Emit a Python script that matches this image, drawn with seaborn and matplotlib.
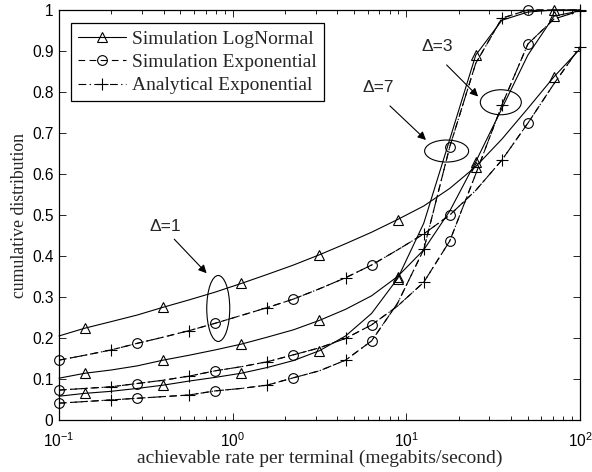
import matplotlib
matplotlib.use("Agg")
import matplotlib.pyplot as plt
import seaborn as sns
from matplotlib.lines import Line2D
from matplotlib.patches import Ellipse
from matplotlib.ticker import FixedLocator, FixedFormatter, LogLocator

# ---------------- data ----------------
rate = [0.1, 0.141, 0.2, 0.282, 0.398, 0.562, 0.794, 1.12, 1.58, 2.24, 3.16,
        4.47, 6.31, 8.91, 12.6, 17.8, 25.1, 35.5, 50.1, 70.8, 100]

lognormal_d1 = [0.205, 0.224, 0.240, 0.256, 0.275, 0.293, 0.312, 0.333, 0.355, 0.378, 0.403,
                0.430, 0.458, 0.489, 0.522, 0.565, 0.618, 0.685, 0.760, 0.837, 0.905]
lognormal_d3 = [0.102, 0.114, 0.122, 0.132, 0.146, 0.158, 0.171, 0.185, 0.202, 0.220, 0.243,
                0.270, 0.303, 0.350, 0.415, 0.510, 0.630, 0.760, 0.890, 0.985, 0.998]
lognormal_d7 = [0.058, 0.065, 0.070, 0.077, 0.085, 0.095, 0.104, 0.114, 0.128, 0.145, 0.169,
                0.205, 0.260, 0.345, 0.480, 0.685, 0.890, 0.975, 0.995, 1.000, 1.000]

exponential_d1 = [0.146, 0.158, 0.171, 0.187, 0.202, 0.218, 0.236, 0.255, 0.274, 0.295, 0.320,
                  0.347, 0.378, 0.415, 0.454, 0.500, 0.560, 0.634, 0.724, 0.820, 0.910]
exponential_d3 = [0.073, 0.077, 0.081, 0.089, 0.097, 0.107, 0.120, 0.130, 0.142, 0.159, 0.176,
                  0.199, 0.232, 0.278, 0.336, 0.437, 0.600, 0.768, 0.917, 0.978, 0.998]
exponential_d7 = [0.041, 0.045, 0.049, 0.053, 0.057, 0.061, 0.071, 0.077, 0.085, 0.103, 0.120,
                  0.146, 0.193, 0.285, 0.416, 0.667, 0.870, 0.980, 1.000, 1.000, 1.000]

analytical_d1 = exponential_d1
analytical_d3 = exponential_d3
analytical_d7 = exponential_d7

legend_labels = ["Simulation LogNormal", "Simulation Exponential", "Analytical Exponential"]
y_ticks = [0, 0.1, 0.2, 0.3, 0.4, 0.5, 0.6, 0.7, 0.8, 0.9, 1]
y_tick_labels = ["0", "0.1", "0.2", "0.3", "0.4", "0.5", "0.6", "0.7", "0.8", "0.9", "1"]

# annotations: label, text pos, arrow start, arrow end, ellipse centre, ellipse size (px)
annotations = [
    ("\u0394=1", (0.407, 0.471), (0.461, 0.441), (0.708, 0.358), (0.826, 0.272), (23, 66)),
    ("\u0394=3", (15.0, 0.912), (17.06, 0.866), (25.9, 0.789), (35.0, 0.775), (41, 25)),
    ("\u0394=7", (6.87, 0.810), (8.05, 0.766), (12.97, 0.683), (17.06, 0.656), (44, 22)),
]

# ---------------- style ----------------
sns.set_style("ticks")
plt.rcParams["font.family"] = ["Liberation Sans", "DejaVu Sans"]
plt.rcParams["mathtext.fontset"] = "custom"
plt.rcParams["mathtext.rm"] = "Liberation Sans"
plt.rcParams["mathtext.it"] = "Liberation Sans:italic"
serif = ["Liberation Serif", "DejaVu Serif"]

fig = plt.figure(figsize=(5.92, 4.72), dpi=100)
ax = fig.add_axes([59 / 592, 1 - 420 / 472, 521 / 592, 410 / 472])

lw = 0.8
styles = {
    "logn": dict(linestyle="-", marker="^", markevery=slice(1, None, 3), markersize=7.5),
    "exp": dict(linestyle=(0, (6, 4)), marker="o", markevery=slice(0, None, 3), markersize=7),
    "ana": dict(linestyle=(0, (7, 3, 1.2, 3)), marker="+", markevery=slice(2, None, 3), markersize=8),
}

series = [
    ("logn", lognormal_d1), ("logn", lognormal_d3), ("logn", lognormal_d7),
    ("exp", exponential_d1), ("exp", exponential_d3), ("exp", exponential_d7),
    ("ana", analytical_d1), ("ana", analytical_d3), ("ana", analytical_d7),
]

for kind, vals in series:
    st = styles[kind]
    sns.lineplot(x=rate, y=vals, ax=ax, color="k", linewidth=lw, errorbar=None,
                 linestyle=st["linestyle"], marker=st["marker"], markevery=st["markevery"],
                 markersize=st["markersize"], markerfacecolor="none", markeredgecolor="k",
                 markeredgewidth=0.8, clip_on=False)
for line in ax.get_lines():
    line.set_markerfacecolor("none")
    line.set_markeredgecolor("k")

ax.set_xscale("log")
ax.set_xlim(0.1, 100)
ax.set_ylim(0, 1)
ax.yaxis.set_major_locator(FixedLocator(y_ticks))
ax.yaxis.set_major_formatter(FixedFormatter(y_tick_labels))
ax.xaxis.set_minor_locator(LogLocator(base=10, subs=range(2, 10), numticks=20))

ax.tick_params(which="both", direction="in", top=True, right=True, width=0.6,
               labelsize=11.2, colors="k")
ax.tick_params(which="major", length=5)
ax.tick_params(which="minor", length=3)
ax.tick_params(axis="y", which="major", pad=4)
ax.tick_params(axis="x", which="major", pad=8)
for sp in ax.spines.values():
    sp.set_linewidth(0.9)
    sp.set_color("k")

ax.set_xlabel("achievable rate per terminal (megabits/second)", family=serif, fontsize=14, labelpad=0)
ax.set_ylabel("cumulative distribution", family=serif, fontsize=12.8, labelpad=3)

# legend
handles = []
for kind in ["logn", "exp", "ana"]:
    st = styles[kind]
    handles.append(Line2D([], [], color="k", linewidth=lw, linestyle=st["linestyle"],
                          marker=st["marker"], markersize=st["markersize"],
                          markerfacecolor="none", markeredgecolor="k", markeredgewidth=0.8))
leg = ax.legend(handles, legend_labels, loc="upper left", bbox_to_anchor=(0.023, 0.968),
                borderaxespad=0, frameon=True, fancybox=False, framealpha=1,
                edgecolor="k", prop={"family": serif, "size": 14}, handlelength=2.5,
                handletextpad=0.3, labelspacing=0.3, borderpad=0.35)
leg.get_frame().set_linewidth(0.9)

# annotations
data_to_axes = ax.transScale + ax.transLimits
for label, tpos, a0, a1, ec, (w, h) in annotations:
    ax.text(tpos[0], tpos[1], label, ha="center", va="center", fontsize=12.5)
    ax.annotate("", xy=a1, xytext=a0,
                arrowprops=dict(arrowstyle="-|>", color="k", lw=0.8, mutation_scale=12,
                                shrinkA=0, shrinkB=0))
    cx, cy = data_to_axes.transform(ec)
    ax.add_patch(Ellipse((cx, cy), w / 521, h / 410, transform=ax.transAxes,
                         fill=False, edgecolor="k", linewidth=0.8))

fig.savefig("out.png", dpi=100)
